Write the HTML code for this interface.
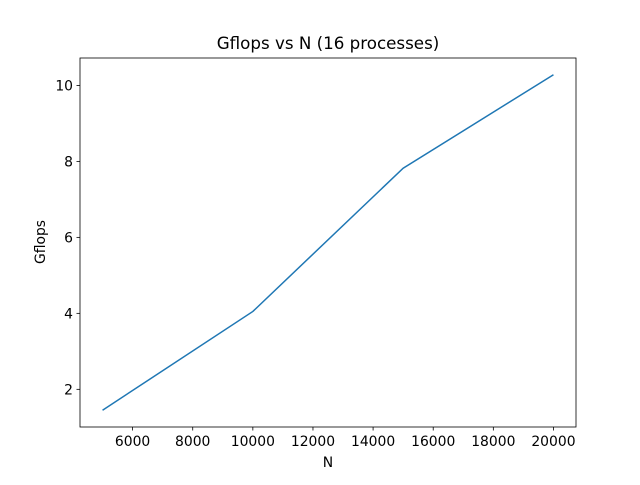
<!DOCTYPE html>
<html><head><meta charset="utf-8"><style>
body{margin:0;background:#fff;font-family:"Liberation Sans","DejaVu Sans",sans-serif}
</style></head><body>
<svg width="640" height="480" viewBox="0 0 640 480" font-family="'DejaVu Sans','Liberation Sans',sans-serif">
<rect width="640" height="480" fill="#fff"/>
<g id="plot"></g>
</svg>
<script>
const nValues=[5000,10000,15000,20000];
const gflops=[1.45,4.05,7.82,10.28];
const xTicks=[6000,8000,10000,12000,14000,16000,18000,20000];
const yTicks=[2,4,6,8,10];
const L=80,R=576,T=58,B=427;
const xmin=4250,xmax=20750,ymin=1.0085,ymax=10.7215;
function sx(v){return L+(v-xmin)/(xmax-xmin)*(R-L);}
function sy(v){return B-(v-ymin)/(ymax-ymin)*(B-T);}
const ns="http://www.w3.org/2000/svg";
const g=document.getElementById('plot');
function mk(t,a,txt){const e=document.createElementNS(ns,t);for(const k in a)e.setAttribute(k,a[k]);if(txt!==undefined)e.textContent=txt;g.appendChild(e);return e;}
let p=mk('polyline',{points:nValues.map((n,i)=>sx(n)+','+sy(gflops[i])).join(' '),fill:'none',stroke:'#1f77b4','stroke-width':1.5});


let fr=mk('rect',{x:L,y:T,width:R-L,height:B-T,fill:'none',stroke:'#000','stroke-width':0.8});


xTicks.forEach(t=>{const x=sx(t);
 mk('line',{x1:x,x2:x,y1:B,y2:B+3.5,stroke:'#000','stroke-width':0.8});
 let l=mk('text',{x:x,y:B+19,'text-anchor':'middle','font-size':13.9,fill:'#000'},t);
 
 });
yTicks.forEach(t=>{const y=sy(t);
 mk('line',{x1:L-3.5,x2:L,y1:y,y2:y,stroke:'#000','stroke-width':0.8});
 let l=mk('text',{x:L-7,y:y+5,'text-anchor':'end','font-size':13.9,fill:'#000'},t);
 
 });
let xt=mk('text',{x:(L+R)/2,y:467,'text-anchor':'middle','font-size':13.9,fill:'#000'},'N');


let yt=mk('text',{x:0,y:0,transform:'translate(45,242) rotate(-90)','text-anchor':'middle','font-size':13.9,fill:'#000'},'Gflops');


let tt=mk('text',{x:(L+R)/2,y:49,'text-anchor':'middle','font-size':16.7,fill:'#000'},'Gflops vs N (16 processes)');


</script>
</body></html>
